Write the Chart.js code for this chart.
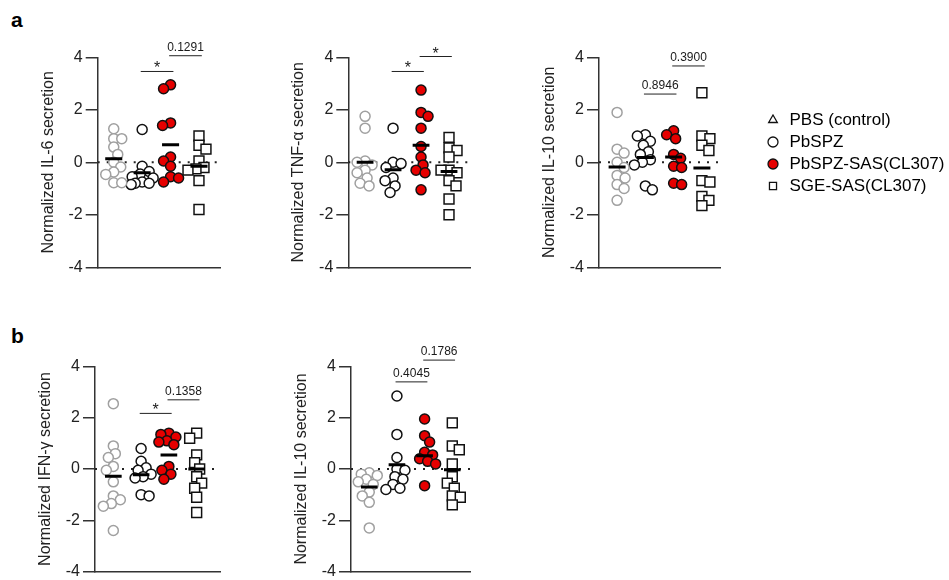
<!DOCTYPE html>
<html><head><meta charset="utf-8">
<script src="https://cdn.jsdelivr.net/npm/chart.js@4.4.1/dist/chart.umd.min.js"></script>
<style>
html,body{margin:0;padding:0;background:#fff;}
#wrap{position:relative;width:949px;height:580px;overflow:hidden;background:#fff;}
canvas{position:absolute;}
.lab{position:absolute;font:bold 21px 'Liberation Sans',Arial,sans-serif;line-height:21px;color:#000;}
</style></head><body>
<div id="wrap">
<div class="lab" style="left:11px;top:9px">a</div>
<div class="lab" style="left:11px;top:325px">b</div>
<canvas id="c1"></canvas><canvas id="c2"></canvas><canvas id="c3"></canvas>
<canvas id="c4"></canvas><canvas id="c5"></canvas><canvas id="cl"></canvas>
</div>
<script>
// ---------- DATA ----------
const groups = ['PBS (control)', 'PbSPZ', 'PbSPZ-SAS(CL307)', 'SGE-SAS(CL307)'];
const yTicks = [-4, -2, 0, 2, 4];

// a: IL-6
const il6_pbs    = [1.28, 0.9, 0.9, 0.58, 0.3, 0.0, -0.18, -0.37, -0.46, -0.78, -0.78];
const il6_pbspz  = [1.25, -0.15, -0.35, -0.45, -0.55, -0.6, -0.75, -0.8, -0.8, -0.85];
const il6_sas    = [2.95, 2.8, 1.5, 1.4, 0.2, 0.05, -0.15, -0.55, -0.6, -0.75];
const il6_sge    = [1.0, 0.65, 0.5, 0.05, -0.2, -0.25, -0.3, -0.7, -1.8];
const il6_means  = [0.14, -0.4, 0.67, -0.15];
const il6_sigY   = [3.46, 4.06];
const il6_sigLab = ['*', '0.1291'];

// a: TNF-alpha
const tnf_pbs    = [1.75, 1.3, 0.05, 0.0, -0.1, -0.3, -0.4, -0.6, -0.8, -0.9];
const tnf_pbspz  = [1.3, 0.0, -0.05, -0.2, -0.6, -0.7, -0.9, -1.15];
const tnf_sas    = [2.75, 1.9, 1.75, 1.3, 0.6, 0.2, -0.1, -0.3, -0.4, -1.05];
const tnf_sge    = [0.95, 0.55, 0.45, 0.2, -0.3, -0.3, -0.4, -0.7, -0.9, -1.4, -2.0];
const tnf_means  = [0.0, -0.28, 0.65, -0.35];
const tnf_sigY   = [3.46, 4.03];
const tnf_sigLab = ['*', '*'];

// a: IL-10
const il10a_pbs    = [1.9, 0.5, 0.35, 0.0, -0.2, -0.5, -0.6, -0.85, -1.0, -1.45];
const il10a_pbspz  = [1.05, 1.0, 0.8, 0.65, 0.4, 0.3, 0.1, 0.0, -0.1, -0.9, -1.05];
const il10a_sas    = [1.2, 1.05, 0.9, 0.3, 0.15, -0.15, -0.2, -0.8, -0.85];
const il10a_sge    = [2.65, 1.0, 0.9, 0.65, 0.45, -0.7, -0.75, -1.3, -1.45, -1.65];
const il10a_means  = [-0.18, 0.18, 0.2, -0.22];
const il10a_sigY   = [2.6, 3.67];
const il10a_sigLab = ['0.8946', '0.3900'];

// b: IFN-gamma
const ifn_pbs    = [2.55, 0.9, 0.6, 0.45, 0.1, -0.05, -0.5, -1.05, -1.2, -1.35, -1.45, -2.4];
const ifn_pbspz  = [0.8, 0.3, 0.05, -0.05, -0.2, -0.3, -0.35, -1.0, -1.05];
const ifn_sas    = [1.4, 1.35, 1.25, 1.1, 1.05, 0.95, 0.1, -0.05, -0.2, -0.4];
const ifn_sge    = [1.4, 1.2, 0.55, 0.25, 0.0, -0.3, -0.55, -0.75, -1.1, -1.7];
const ifn_means  = [-0.28, -0.22, 0.55, 0.0];
const ifn_sigY   = [2.17, 2.7];
const ifn_sigLab = ['*', '0.1358'];

// b: IL-10
const il10b_pbs    = [-0.15, -0.2, -0.25, -0.4, -0.5, -0.6, -0.9, -1.05, -1.3, -2.3];
const il10b_pbspz  = [2.85, 1.35, 0.45, 0.0, -0.05, -0.3, -0.4, -0.6, -0.75, -0.8];
const il10b_sas    = [1.95, 1.3, 1.05, 0.65, 0.55, 0.4, 0.3, 0.2, -0.65];
const il10b_sge    = [1.8, 0.9, 0.75, 0.2, -0.3, -0.55, -0.75, -1.05, -1.1, -1.4];
const il10b_means  = [-0.7, 0.17, 0.52, -0.03];
const il10b_sigY   = [3.4, 4.25];
const il10b_sigLab = ['0.4045', '0.1786'];

const sigPairs = [[1, 2], [2, 3]];

// ---------- STYLE / LAYOUT ----------
const FONT = "'Liberation Sans', Arial, Helvetica, sans-serif";
const AXW = 59;
const marks = [
  {style: 'circle', r: 5, fill: '#ffffff', stroke: '#a0a0a0'},
  {style: 'circle', r: 5, fill: '#ffffff', stroke: '#111111'},
  {style: 'circle', r: 5, fill: '#e60000', stroke: '#111111'},
  {style: 'rect',   r: 7, fill: '#ffffff', stroke: '#111111'}
];

const panels = [
  {id: 'c1', title: 'Normalized IL-6 secretion', series: [il6_pbs, il6_pbspz, il6_sas, il6_sge], means: il6_means, sigY: il6_sigY, sigLab: il6_sigLab,
   left: 20, top: 25, w: 210, h: 260, axisX: 97.7, right: 220, yTop: 57.3, yBot: 267.3, xmin: -0.565, xmax: 3.74},
  {id: 'c2', title: 'Normalized TNF-\u03b1 secretion', series: [tnf_pbs, tnf_pbspz, tnf_sas, tnf_sge], means: tnf_means, sigY: tnf_sigY, sigLab: tnf_sigLab,
   left: 270, top: 25, w: 210, h: 260, axisX: 348.3, right: 470, yTop: 57.3, yBot: 267.3, xmin: -0.6, xmax: 3.75},
  {id: 'c3', title: 'Normalized IL-10 secretion', series: [il10a_pbs, il10a_pbspz, il10a_sas, il10a_sge], means: il10a_means, sigY: il10a_sigY, sigLab: il10a_sigLab,
   left: 520, top: 25, w: 210, h: 260, axisX: 599, right: 720, yTop: 57.3, yBot: 267.3, xmin: -0.64, xmax: 3.64},
  {id: 'c4', title: 'Normalized IFN-\u03b3 secretion', series: [ifn_pbs, ifn_pbspz, ifn_sas, ifn_sge], means: ifn_means, sigY: ifn_sigY, sigLab: ifn_sigLab,
   left: 20, top: 330, w: 210, h: 250, axisX: 95, right: 220, yTop: 366.5, yBot: 576, xmin: -0.66, xmax: 3.84},
  {id: 'c5', title: 'Normalized IL-10 secretion', series: [il10b_pbs, il10b_pbspz, il10b_sas, il10b_sge], means: il10b_means, sigY: il10b_sigY, sigLab: il10b_sigLab,
   left: 270, top: 330, w: 210, h: 250, axisX: 351, right: 470, yTop: 366.5, yBot: 576, xmin: -0.66, xmax: 3.64}
];

// compact beeswarm: horizontal offsets (in x units), limited spread like the original column scatter
function swarm(vals, pxY, pxX, minD, maxOff) {
  const placed = [], offs = [];
  vals.forEach((v, idx) => {
    const py = v * pxY;
    let best = 0, bestScore = -1;
    for (let k = 0; k <= maxOff; k++) {
      const cands = k === 0 ? [0] : (idx % 2 ? [-k, k] : [k, -k]);
      let found = false;
      for (const c of cands) {
        const d = placed.length ? Math.min(...placed.map(p => Math.hypot(p.x - c, p.y - py))) : 1e9;
        if (d >= minD) { best = c; found = true; break; }
        if (d > bestScore) { bestScore = d; best = c; }
      }
      if (found) break;
    }
    placed.push({x: best, y: py});
    offs.push(best / pxX);
  });
  return offs;
}

function sigPlugin(cfg) {
  return {
    id: 'sig_' + cfg.id,
    afterDatasetsDraw(chart) {
      const {ctx} = chart; const xs = chart.scales.x, ys = chart.scales.y;
      ctx.save();
      ctx.fillStyle = '#1a1a1a';
      ctx.textAlign = 'center';
      ctx.textBaseline = 'alphabetic';
      sigPairs.forEach((p, k) => {
        const xm = xs.getPixelForValue(((p[0] - 0.05) + (p[1] + 0.1)) / 2);
        const yp = ys.getPixelForValue(cfg.sigY[k]);
        const lab = cfg.sigLab[k];
        if (lab === '*') { ctx.font = '16px ' + FONT; ctx.fillText(lab, xm, yp + 2); }
        else { ctx.font = '12px ' + FONT; ctx.fillText(lab, xm, yp - 5); }
      });
      ctx.restore();
    }
  };
}

function makePanel(cfg) {
  const cv = document.getElementById(cfg.id);
  cv.width = cfg.w; cv.height = cfg.h;
  cv.style.left = cfg.left + 'px'; cv.style.top = cfg.top + 'px';
  cv.style.width = cfg.w + 'px'; cv.style.height = cfg.h + 'px';
  const pxY = (cfg.yBot - cfg.yTop) / 8;
  const pxX = (cfg.right - cfg.axisX) / (cfg.xmax - cfg.xmin);
  const ds = [];
  cfg.means.forEach((m, i) => ds.push({
    data: [{x: i - 0.3, y: m}, {x: i + 0.3, y: m}], showLine: true,
    borderColor: '#000', borderWidth: 3, pointRadius: 0, pointHoverRadius: 0
  }));
  cfg.series.forEach((vals, i) => {
    const offs = swarm(vals, pxY, pxX, 8, 11);
    const mk = marks[i];
    ds.push({
      data: vals.map((v, j) => ({x: i + offs[j], y: v})), showLine: false,
      pointStyle: mk.style, pointRadius: mk.r, pointHoverRadius: mk.r,
      pointBackgroundColor: mk.fill, pointBorderColor: mk.stroke, pointBorderWidth: 1.5, pointHoverBorderWidth: 1.5
    });
  });
  sigPairs.forEach((p, k) => ds.push({
    data: [{x: p[0] - 0.05, y: cfg.sigY[k]}, {x: p[1] + 0.1, y: cfg.sigY[k]}], showLine: true,
    borderColor: '#222', borderWidth: 1, pointRadius: 0, pointHoverRadius: 0, clip: false
  }));
  ds.push({
    data: [{x: cfg.xmin, y: 0}, {x: cfg.xmax, y: 0}], showLine: true,
    borderColor: '#222', borderWidth: 2, borderDash: [2, 7], pointRadius: 0, pointHoverRadius: 0
  });

  new Chart(cv, {
    type: 'scatter',
    data: {datasets: ds},
    options: {
      responsive: false, animation: false, events: [],
      layout: {padding: {
        left: cfg.axisX - AXW - cfg.left, right: cfg.left + cfg.w - cfg.right,
        top: cfg.yTop - cfg.top, bottom: cfg.top + cfg.h - cfg.yBot}},
      plugins: {legend: {display: false}, tooltip: {enabled: false}},
      scales: {
        x: {type: 'linear', min: cfg.xmin, max: cfg.xmax,
            ticks: {display: false}, grid: {display: false},
            border: {display: true, color: '#333', width: 1.5},
            afterFit(s) { s.height = 0; s.paddingLeft = 0; s.paddingRight = 0; }},
        y: {type: 'linear', min: -4, max: 4, position: 'left',
            afterBuildTicks(s) { s.ticks = yTicks.map(v => ({value: v})); },
            ticks: {font: {family: FONT, size: 16}, color: '#222', padding: 3},
            grid: {display: true, drawOnChartArea: false, drawTicks: true, tickLength: 12, color: '#333', lineWidth: 1.5},
            border: {display: true, color: '#333', width: 1.5},
            title: {display: true, text: cfg.title, font: {family: FONT, size: 16}, color: '#222', padding: 0},
            afterFit(s) { s.width = AXW; s.paddingTop = 0; s.paddingBottom = 0; }}
      }
    },
    plugins: [sigPlugin(cfg)]
  });
}
panels.forEach(makePanel);

// ---------- LEGEND ----------
(function () {
  const cv = document.getElementById('cl');
  cv.width = 199; cv.height = 110;
  cv.style.left = '750px'; cv.style.top = '100px';
  cv.style.width = '199px'; cv.style.height = '110px';
  const legendStyles = ['triangle', 'circle', 'circle', 'rect'];
  const legendFill = ['#ffffff', '#ffffff', '#e60000', '#ffffff'];
  new Chart(cv, {
    type: 'scatter',
    data: {datasets: groups.map((g, i) => ({label: g, data: []}))},
    options: {
      responsive: false, animation: false, events: [],
      layout: {padding: {left: 10, top: 6.5}},
      scales: {x: {display: false}, y: {display: false}},
      plugins: {
        tooltip: {enabled: false},
        legend: {
          display: true, position: 'left', align: 'start', maxWidth: 199,
          labels: {
            usePointStyle: true, boxWidth: 16, boxHeight: 7.07, padding: 5,
            font: {family: FONT, size: 17}, color: '#1a1a1a',
            generateLabels: () => groups.map((g, i) => ({
              text: g, fillStyle: legendFill[i], strokeStyle: '#111', lineWidth: 1.3,
              pointStyle: legendStyles[i], hidden: false, datasetIndex: i
            }))
          }
        }
      }
    }
  });
})();
</script>
</body></html>
